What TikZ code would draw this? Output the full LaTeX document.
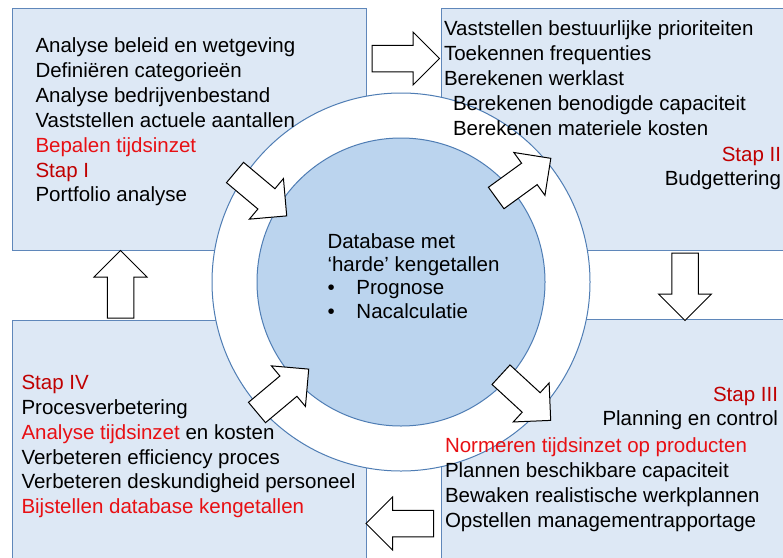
\documentclass[tikz,border=0pt]{standalone}
\usepackage{fontspec}
\setmainfont{Liberation Sans}
\definecolor{boxfill}{RGB}{221,232,245}
\definecolor{boxline}{RGB}{95,135,186}
\definecolor{corefill}{RGB}{187,212,238}
\definecolor{ringline}{RGB}{79,125,180}
\definecolor{hotred}{RGB}{232,16,20}
\definecolor{stepred}{RGB}{192,0,0}
\tikzset{
  stepbox/.style={draw=boxline, fill=boxfill, line width=0.9pt, rectangle,
    inner sep=0pt, outer sep=0pt, anchor=north west},
  ring/.style={circle, draw=ringline, fill=white, line width=1pt, inner sep=0pt},
  core/.style={circle, draw=ringline, fill=corefill, line width=1pt, inner sep=0pt},
  txt/.style={inner sep=0pt, outer sep=0pt, align=left, text=black,
    font=\fontsize{20.5}{24.9}\selectfont},
  blockarrow/.pic={
    \draw[fill=white, draw=black, line width=1pt, line join=miter]
      (0,-13.25) -- (41,-13.25) -- (41,-26.5) -- (67.5,0) -- (41,26.5)
      -- (41,13.25) -- (0,13.25) -- cycle;
  }
}
\begin{document}
\begin{tikzpicture}[x=1pt, y=-1pt]
  \useasboundingbox (0,0) rectangle (783,557);
  \fill[white] (0,0) rectangle (783,557);
  \clip (0,0) rectangle (783,557);

  % the four step panels
  \node[stepbox, minimum width=353.5pt, minimum height=242pt] (s1) at (12.5,8) {};
  \node[stepbox, minimum width=360pt, minimum height=242pt] (s2) at (441,8) {};
  \node[stepbox, minimum width=360pt, minimum height=250pt] (s3) at (441,319) {};
  \node[stepbox, minimum width=353.5pt, minimum height=250pt] (s4) at (12.5,320) {};

  % central database ring
  \node[ring, minimum size=378pt] (ring) at (401,282) {};
  \node[core, minimum size=288pt] (core) at (401,282) {};

  % block arrows between the panels
  \pic at (372,58.5) {blockarrow};
  \pic[rotate=-90] at (685,253) {blockarrow};
  \pic[rotate=180] at (433.5,523.5) {blockarrow};
  \pic[rotate=90] at (120.5,318) {blockarrow};

  % block arrows crossing the ring
  \pic[rotate=-40] at (235,172.5) {blockarrow};
  \pic[rotate=36] at (496.2,198) {blockarrow};
  \pic[rotate=-42.6] at (501,374.7) {blockarrow};
  \pic[rotate=40] at (257,412.5) {blockarrow};

  % texts
  \node[txt, anchor=north west] (t1) at (35.5,37.7) {Analyse beleid en wetgeving\\
    Definiëren categorieën\\
    Analyse bedrijvenbestand\\
    Vaststellen actuele aantallen\\
    \textcolor{hotred}{Bepalen tijdsinzet}\\
    \textcolor{stepred}{Stap I}\\
    Portfolio analyse};

  \node[txt, anchor=north west] (t2a) at (444,20.7) {Vaststellen bestuurlijke prioriteiten\\
    Toekennen frequenties\\
    Berekenen werklast\\
    \hspace*{9pt}Berekenen benodigde capaciteit\\
    \hspace*{9pt}Berekenen materiele kosten};
  \node[txt, align=right, anchor=north east] (t2b) at (781,146.7) {\textcolor{stepred}{Stap II}\\
    Budgettering};

  \node[txt, align=right, anchor=north east] (t3a) at (778,386.7) {\textcolor{stepred}{Stap III}\\
    Planning en control};
  \node[txt, anchor=north west] (t3b) at (445,438) {\textcolor{hotred}{Normeren tijdsinzet op producten}\\
    Plannen beschikbare capaciteit\\
    Bewaken realistische werkplannen\\
    Opstellen managementrapportage};

  \node[txt, anchor=north west] (t4) at (21.5,375) {\textcolor{stepred}{Stap IV}\\
    Procesverbetering\\
    \textcolor{hotred}{Analyse tijdsinzet} en kosten\\
    Verbeteren efficiency proces\\
    Verbeteren deskundigheid personeel\\
    \textcolor{hotred}{Bijstellen database kengetallen}};

  \node[txt, font=\fontsize{20.5}{23.4}\selectfont, anchor=north west] (db) at (327.5,233.3) {Database met\\
    ‘harde’ kengetallen\\
    \makebox[29pt][l]{•}Prognose\\
    \makebox[29pt][l]{•}Nacalculatie};
\end{tikzpicture}
\end{document}
